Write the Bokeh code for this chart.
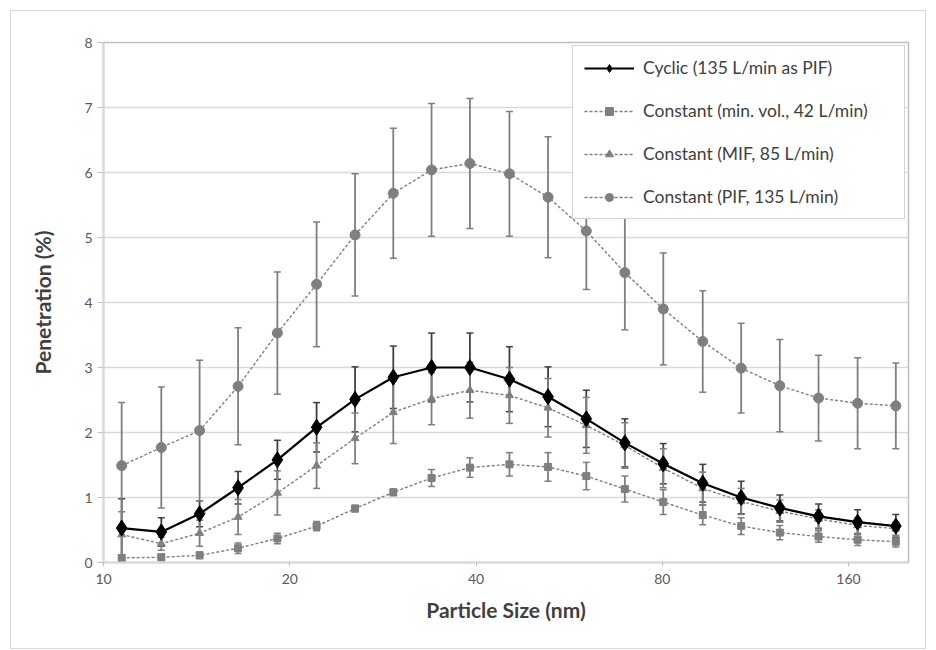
from bokeh.plotting import figure
from bokeh.models import (ColumnDataSource, Range1d, FixedTicker, NumeralTickFormatter,
                          Whisker, TeeHead, Legend, LegendItem)
from bokeh.embed import file_html
from bokeh.resources import INLINE

# Particle mobility diameters (nm)
size_nm = [10.7, 12.4, 14.3, 16.5, 19.1, 22.1, 25.5, 29.4, 33.9, 39.1, 45.3,
           52.3, 60.3, 69.6, 80.3, 93.0, 107.3, 123.9, 143.1, 165.5, 190.8]

# Penetration (%) and standard deviation per flow condition
cyclic = [0.53, 0.47, 0.75, 1.15, 1.58, 2.08, 2.51, 2.85, 3.00, 3.00, 2.82,
          2.55, 2.21, 1.84, 1.52, 1.22, 1.00, 0.84, 0.71, 0.62, 0.56]
cyclic_sd = [0.45, 0.22, 0.20, 0.25, 0.30, 0.38, 0.50, 0.48, 0.53, 0.53, 0.50,
             0.46, 0.44, 0.37, 0.31, 0.29, 0.25, 0.20, 0.19, 0.19, 0.18]

min_vol = [0.07, 0.08, 0.11, 0.22, 0.37, 0.56, 0.83, 1.08, 1.30, 1.46, 1.51,
           1.47, 1.33, 1.13, 0.93, 0.73, 0.56, 0.46, 0.40, 0.35, 0.32]
min_vol_sd = [0.05, 0.05, 0.05, 0.08, 0.08, 0.07, 0.05, 0.05, 0.13, 0.15, 0.18,
              0.22, 0.21, 0.20, 0.19, 0.15, 0.13, 0.11, 0.09, 0.09, 0.08]

mif = [0.43, 0.29, 0.45, 0.70, 1.07, 1.49, 1.91, 2.31, 2.52, 2.65, 2.57,
       2.38, 2.11, 1.80, 1.45, 1.14, 0.94, 0.79, 0.67, 0.57, 0.52]
mif_sd = [0.35, 0.10, 0.20, 0.27, 0.34, 0.35, 0.39, 0.48, 0.40, 0.43, 0.43,
          0.45, 0.43, 0.35, 0.30, 0.25, 0.20, 0.17, 0.14, 0.12, 0.10]

pif = [1.49, 1.77, 2.03, 2.71, 3.53, 4.28, 5.04, 5.68, 6.04, 6.14, 5.98,
       5.62, 5.10, 4.46, 3.90, 3.40, 2.99, 2.72, 2.53, 2.45, 2.41]
pif_sd = [0.97, 0.93, 1.08, 0.90, 0.94, 0.96, 0.94, 1.00, 1.02, 1.00, 0.96,
          0.93, 0.90, 0.88, 0.86, 0.78, 0.69, 0.71, 0.66, 0.70, 0.66]

x_ticks = [10, 20, 40, 80, 160]
y_ticks = [0, 1, 2, 3, 4, 5, 6, 7, 8]

labels = ["Cyclic (135 L/min as PIF)",
          "Constant (min. vol., 42 L/min)",
          "Constant (MIF, 85 L/min)",
          "Constant (PIF, 135 L/min)"]

FONT = "Lato"
GRAY = "#7f7f7f"

p = figure(width=916, height=639, x_axis_type="log",
           x_range=Range1d(10, 200), y_range=Range1d(0, 8),
           output_backend="svg", toolbar_location=None,
           min_border_left=92, min_border_right=19,
           min_border_top=31, min_border_bottom=88,
           margin=(10, 0, 0, 10))
p.styles = {"border": "1px solid #d9d9d9"}
p.background_fill_color = "white"
p.border_fill_color = "white"
p.outline_line_color = "#bfbfbf"
p.outline_line_width = 1.5

# axes
p.xaxis.ticker = FixedTicker(ticks=x_ticks)
p.xaxis.formatter = NumeralTickFormatter(format="0")
p.yaxis.ticker = FixedTicker(ticks=y_ticks)
for ax in (p.xaxis, p.yaxis):
    ax.axis_line_color = "#d9d9d9"
    ax.axis_line_width = 2
    ax.major_tick_line_color = "#bfbfbf"
    ax.major_tick_in = 0
    ax.minor_tick_line_color = None
    ax.major_label_text_font = FONT
    ax.major_label_text_font_size = "14px"
    ax.major_label_text_color = "#595959"
    ax.axis_label_text_font = FONT
    ax.axis_label_text_font_style = "bold"
    ax.axis_label_text_color = "#404040"
p.yaxis.major_tick_out = 6
p.xaxis.major_tick_out = 4
p.xaxis.major_label_standoff = 7
p.xaxis.axis_label = "Particle Size (nm)"
p.yaxis.axis_label = "Penetration (%)"
p.xaxis.axis_label_text_font_size = "21px"
p.yaxis.axis_label_text_font_size = "21px"
p.xaxis.axis_label_standoff = 10
p.yaxis.axis_label_standoff = 26

p.xgrid.visible = False
p.ygrid.grid_line_color = "#d9d9d9"
p.ygrid.grid_line_width = 1.5

series = [
    (cyclic, cyclic_sd, "black", "solid", "diamond", 16, 2.2, "#404040"),
    (min_vol, min_vol_sd, GRAY, "3 2", "square", 7, 1.4, GRAY),
    (mif, mif_sd, GRAY, "3 2", "triangle", 8, 1.4, GRAY),
    (pif, pif_sd, GRAY, "3 2", "circle", 10, 1.4, GRAY),
]

sources = []
for vals, sd, color, dash, marker, msize, lw, ecolor in series:
    src = ColumnDataSource(dict(
        x=size_nm, y=vals,
        upper=[v + s for v, s in zip(vals, sd)],
        lower=[v - s for v, s in zip(vals, sd)]))
    sources.append(src)
    p.add_layout(Whisker(source=src, base="x", upper="upper", lower="lower",
                         line_color=ecolor, line_width=1.8,
                         upper_head=TeeHead(size=7, line_color=ecolor, line_width=1.5),
                         lower_head=TeeHead(size=7, line_color=ecolor, line_width=1.5)))

# draw the gray series first so the cyclic curve sits on top
rends = {}
for i in [1, 2, 3, 0]:
    vals, sd, color, dash, marker, msize, lw, ecolor = series[i]
    src = sources[i]
    ln = p.line("x", "y", source=src, line_color=color, line_width=lw,
                line_dash=dash)
    sc = p.scatter("x", "y", source=src, marker=marker, size=msize,
                   fill_color=color, line_color=color)
    rends[i] = [ln, sc]
items = [LegendItem(label=labels[i], renderers=rends[i]) for i in range(4)]

legend = Legend(items=items, location="top_right", margin=3,
                padding=11, spacing=22, glyph_height=20, label_height=20,
                glyph_width=50, label_standoff=9, label_width=250,
                label_text_font=FONT, label_text_font_size="17.5px",
                label_text_color="#404040",
                border_line_color="#a6a6a6", border_line_width=1.5,
                background_fill_color="white", background_fill_alpha=1)
p.add_layout(legend)

open("out.html", "w").write(file_html(p, INLINE))
